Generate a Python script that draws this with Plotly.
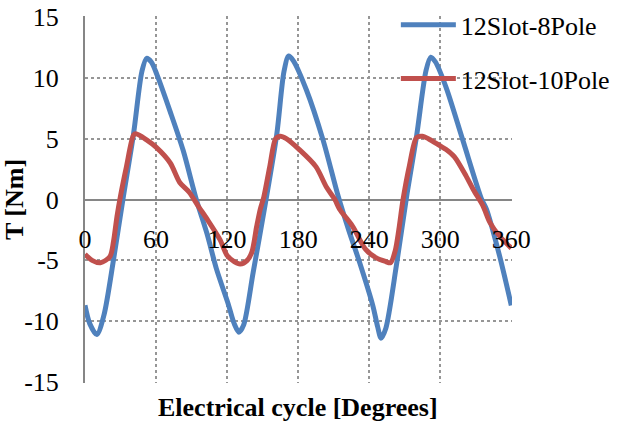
import plotly.graph_objects as go

# 12Slot-8Pole torque waveform
deg_8p = [0, 4, 10, 16, 24, 32, 41, 48, 52, 56, 61, 72, 83, 94, 103, 111, 121, 126, 130, 134,
          142, 152, 162, 168, 172, 176, 187, 201, 214, 223, 232, 243, 247, 250, 254, 263, 272,
          280, 288, 292, 296, 305, 319, 335, 339, 350, 360]
t_8p = [-8.7, -10.2, -11.1, -9.5, -5.0, 0.0, 5.4, 10.5, 11.6, 11.3, 10.2, 7.2, 4.0, 0.0, -2.8,
        -5.7, -8.6, -10.2, -10.9, -10.3, -6.0, -0.5, 5.4, 10.5, 11.8, 11.4, 9.0, 4.9, 0.2, -2.6,
        -5.2, -8.7, -10.4, -11.4, -10.6, -5.4, 0.5, 5.2, 10.6, 11.7, 11.3, 9.2, 4.9, 0.0, -0.8,
        -4.6, -8.7]

# 12Slot-10Pole torque waveform
deg_10p = [0, 6, 13, 21, 24, 27, 30, 35, 41, 43, 52, 60, 72, 80, 88, 96, 103, 114, 120, 126,
           131, 137, 141, 145, 148, 151, 156, 161, 165, 170, 181, 195, 204, 211, 215, 226, 237,
           246, 254, 258, 262, 265, 268.6, 274, 280, 285, 290, 300, 305, 312, 322, 328, 336,
           342, 350, 360]
t_10p = [-4.5, -5.0, -5.2, -4.7, -3.5, -1.4, 0.3, 2.7, 5.3, 5.4, 4.9, 4.3, 3.0, 1.4, 0.6, -0.6,
         -1.6, -3.3, -4.6, -5.1, -5.3, -5.0, -4.3, -2.2, -0.8, 0.2, 2.7, 5.0, 5.2, 5.0, 4.1, 2.7,
         1.0, 0.0, -0.8, -2.2, -4.1, -4.8, -5.1, -5.2, -4.2, -2.5, 0.0, 2.8, 5.1, 5.2, 5.0, 4.4,
         4.1, 3.5, 1.9, 0.8, -0.5, -1.9, -3.0, -4.0]

x_ticks = [0, 60, 120, 180, 240, 300, 360]
y_ticks = [-15, -10, -5, 0, 5, 10, 15]

FONT = "Liberation Serif, Times New Roman, serif"
BLUE = "#4F81BD"
RED = "#C0504D"
GRID = "#969696"
AXIS = "#868686"

fig = go.Figure()
fig.add_trace(go.Scatter(x=deg_8p, y=t_8p, mode="lines", name="12Slot-8Pole",
                         legendgroup="a",
                         line=dict(color=BLUE, width=5, shape="spline", smoothing=0.8)))
fig.add_trace(go.Scatter(x=deg_10p, y=t_10p, mode="lines", name="12Slot-10Pole",
                         legendgroup="b",
                         line=dict(color=RED, width=5, shape="spline", smoothing=0.8)))

fig.update_layout(
    width=617, height=422,
    margin=dict(l=85, r=105, t=16, b=39, autoexpand=False),
    paper_bgcolor="white", plot_bgcolor="white",
    font=dict(family=FONT, size=26, color="black"),
    showlegend=True,
    legend=dict(x=0.728, y=1.04, xanchor="left", yanchor="top",
                bgcolor="rgba(0,0,0,0)", font=dict(family=FONT, size=26, color="black"),
                tracegroupgap=17, itemwidth=55),
    xaxis=dict(range=[0, 360.6], tickvals=x_ticks, ticktext=[str(v) for v in x_ticks],
               anchor="free", position=0.5, automargin=False,
               showgrid=True, gridcolor=GRID, griddash="dot", gridwidth=1.5,
               zeroline=False, showline=False, ticks="",
               tickfont=dict(family=FONT, size=26, color="black"),
               ticklabelstandoff=21),
    yaxis=dict(range=[-15.08, 15.08], tickvals=y_ticks, ticktext=[str(v) for v in y_ticks],
               automargin=False,
               showgrid=True, gridcolor=GRID, griddash="dot", gridwidth=1.5,
               zeroline=True, zerolinecolor=AXIS, zerolinewidth=2,
               showline=True, linecolor=AXIS, linewidth=2, ticks="",
               tickfont=dict(family=FONT, size=26, color="black"),
               ticklabelstandoff=19,
               title=dict(text="<b>T [Nm]</b>", font=dict(family=FONT, size=26, color="black"),
                          standoff=8)),
    annotations=[dict(text="<b>Electrical cycle [Degrees]</b>", xref="paper", yref="paper",
                      x=(298 - 85) / 427, y=-0.066, xanchor="center", yanchor="middle",
                      showarrow=False, font=dict(family=FONT, size=26, color="black"))],
)

fig.write_html("out.html")
